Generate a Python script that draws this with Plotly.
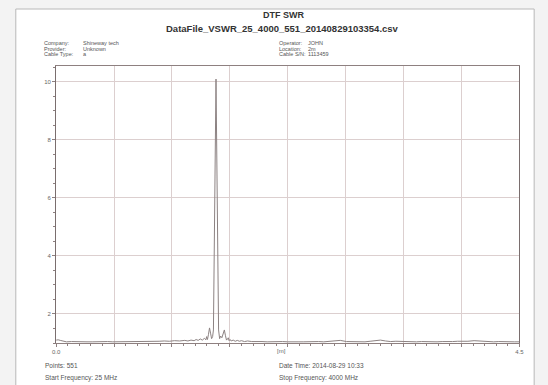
import plotly.graph_objects as go

W, H = 548, 385

# ---------------- data ----------------
distance_m = [
    0.00, 0.02, 0.04, 0.06, 0.08, 0.10, 0.15, 0.20, 0.25, 0.30,
    0.35, 0.40, 0.45, 0.50, 0.55, 0.60, 0.65, 0.70, 0.75, 0.80,
    0.85, 0.90, 0.95, 1.00, 1.05, 1.10, 1.15, 1.20, 1.25, 1.28,
    1.31, 1.34, 1.36, 1.38, 1.40, 1.42, 1.44, 1.455, 1.462, 1.47,
    1.48, 1.49, 1.50, 1.51, 1.52, 1.528, 1.553, 1.578, 1.588, 1.598,
    1.61, 1.622, 1.634, 1.645, 1.655, 1.665, 1.672, 1.68, 1.69, 1.70,
    1.72, 1.74, 1.76, 1.78, 1.80, 1.83, 1.86, 1.90, 1.95, 2.00,
    2.05, 2.10, 2.15, 2.20, 2.25, 2.30, 2.35, 2.40, 2.45, 2.50,
    2.55, 2.60, 2.65, 2.70, 2.76, 2.82, 2.88, 2.95, 3.00, 3.05,
    3.10, 3.15, 3.20, 3.25, 3.30, 3.35, 3.40, 3.45, 3.50, 3.55,
    3.60, 3.65, 3.70, 3.75, 3.80, 3.85, 3.90, 3.95, 4.00, 4.06,
    4.12, 4.18, 4.25, 4.30, 4.35, 4.40, 4.45, 4.50,
]
swr = [
    1.10, 1.11, 1.09, 1.07, 1.05, 1.04, 1.05, 1.04, 1.05, 1.04,
    1.04, 1.05, 1.04, 1.05, 1.04, 1.04, 1.05, 1.04, 1.05, 1.06,
    1.05, 1.06, 1.05, 1.06, 1.07, 1.06, 1.08, 1.07, 1.09, 1.07,
    1.10, 1.08, 1.12, 1.09, 1.14, 1.10, 1.16, 1.11, 1.22, 1.12,
    1.30, 1.52, 1.34, 1.15, 1.22, 1.45, 10.10, 1.45, 1.15, 1.24,
    1.18, 1.30, 1.45, 1.25, 1.10, 1.14, 1.18, 1.08, 1.12, 1.07,
    1.10, 1.06, 1.09, 1.06, 1.08, 1.05, 1.07, 1.05, 1.06, 1.05,
    1.04, 1.05, 1.04, 1.05, 1.04, 1.05, 1.04, 1.04, 1.05, 1.04,
    1.05, 1.04, 1.05, 1.06, 1.09, 1.05, 1.04, 1.05, 1.04, 1.06,
    1.08, 1.10, 1.07, 1.05, 1.06, 1.05, 1.04, 1.05, 1.04, 1.05,
    1.04, 1.05, 1.04, 1.05, 1.04, 1.05, 1.06, 1.05, 1.06, 1.08,
    1.06, 1.05, 1.04, 1.05, 1.04, 1.05, 1.04, 1.04,
]

x_major = [0.0, 0.5625, 1.125, 1.6875, 2.25, 2.8125, 3.375, 3.9375, 4.5]
x_labels = ["0.0", "", "", "", "", "", "", "", "4.5"]
y_major = [2, 4, 6, 8, 10]
y_labels = ["2", "4", "6", "8", "10"]

title1 = "DTF SWR"
title2 = "DataFile_VSWR_25_4000_551_20140829103354.csv"
info_left = [("Company:", "Shineway tech"), ("Provider:", "Unknown"), ("Cable Type:", "a")]
info_right = [("Operator:", "JOHN"), ("Location:", "2m"), ("Cable S/N:", "1113459")]
foot_left = ["Points: 551", "Start Frequency: 25 MHz"]
foot_right = ["Date Time: 2014-08-29 10:33", "Stop Frequency: 4000 MHz"]
x_unit = "[m]"

# ---------------- layout helpers ----------------
def px(x):
    return x / W

def py(y):
    return 1 - y / H

PL, PR, PT, PB = 53, 524, 66, 343
FONT = "Liberation Sans, Arial, sans-serif"
TXT = "#555555"
GRID = "#dccfcf"
FRAME = "#8e8080"

fig = go.Figure()
fig.add_trace(go.Scatter(
    x=distance_m, y=swr, mode="lines",
    line=dict(color="#8c8282", width=1), showlegend=False, hoverinfo="skip",
))

minor_x = []
for i in range(len(x_major) - 1):
    a, b = x_major[i], x_major[i + 1]
    for k in range(1, 5):
        minor_x.append(a + (b - a) * k / 5)

fig.update_layout(
    width=W, height=H,
    margin=dict(l=0, r=0, t=0, b=0),
    paper_bgcolor="#f3f3f3",
    plot_bgcolor="white",
    font=dict(family=FONT, color=TXT, size=6),
    xaxis=dict(
        domain=[px(PL), px(PR)], range=[0, 4.5],
        tickmode="array", tickvals=x_major, ticktext=x_labels,
        showgrid=True, gridcolor=GRID, gridwidth=1,
        showline=True, linecolor=FRAME, linewidth=1, mirror=True,
        ticks="outside", ticklen=3, tickcolor=FRAME,
        tickfont=dict(size=6, color="#666666"),
        zeroline=False,
        minor=dict(tickvals=minor_x, ticks="outside", ticklen=2, tickcolor=FRAME, showgrid=False),
    ),
    yaxis=dict(
        domain=[py(PB), py(PT)], range=[1, 10.55],
        tickmode="array", tickvals=y_major, ticktext=y_labels,
        showgrid=True, gridcolor=GRID, gridwidth=1,
        showline=True, linecolor="#7a6e6e", linewidth=1, mirror=True,
        ticks="outside", ticklen=3, tickcolor=FRAME,
        tickfont=dict(size=6, color="#666666"),
        zeroline=False,
        minor=dict(dtick=0.5, ticks="outside", ticklen=2, tickcolor=FRAME, showgrid=False),
    ),
)

# page sheet with grey border
fig.add_shape(type="rect", xref="paper", yref="paper",
              x0=px(12), x1=px(539), y0=py(400), y1=py(9),
              fillcolor="white", line=dict(color="#b8b8b8", width=1), layer="below")

ann = []
def text(x, y, s, size=6, bold=False, anchor="left", color=TXT):
    ann.append(dict(xref="paper", yref="paper", x=px(x), y=py(y), text=("<b>%s</b>" % s) if bold else s,
                    showarrow=False, xanchor=anchor, yanchor="middle",
                    font=dict(family=FONT, size=size, color=color)))

text(284, 15, title1, size=9, bold=True, anchor="center", color="#333333")
text(283, 28, title2, size=9.5, bold=True, anchor="center", color="#333333")
for i, (lab, val) in enumerate(info_left):
    text(39, 43 + 5.6 * i, lab, size=5.5)
    text(78, 43 + 5.6 * i, val, size=5.5)
for i, (lab, val) in enumerate(info_right):
    text(278, 43 + 5.6 * i, lab, size=5.5)
    text(307, 43 + 5.6 * i, val, size=5.5)
for i, s in enumerate(foot_left):
    text(40, 365 + 13 * i, s, size=6.5)
for i, s in enumerate(foot_right):
    text(278, 365 + 13 * i, s, size=6.5)
text(282, 351, x_unit, size=6, anchor="center", color="#666666")
fig.update_layout(annotations=ann)

fig.write_html("out.html")
